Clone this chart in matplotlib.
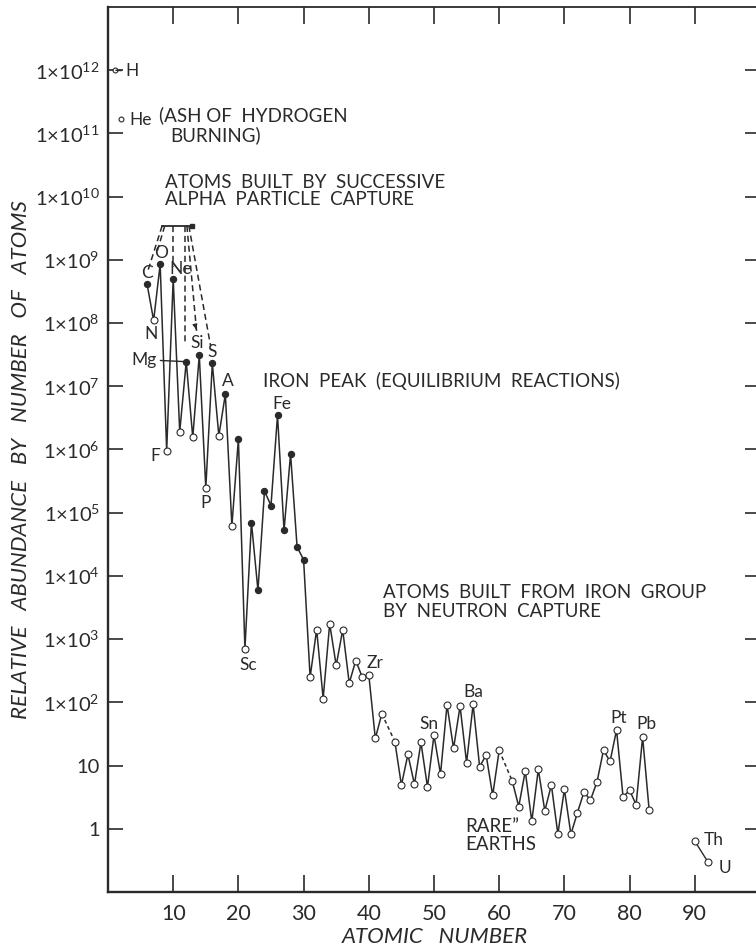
import matplotlib
matplotlib.use("Agg")
import matplotlib.pyplot as plt
import numpy as np

plt.rcParams['font.family'] = ['Lato', 'DejaVu Sans']
plt.rcParams['mathtext.default'] = 'regular'

ink = '#2a2a2a'

# hydrogen / helium, drawn on their own
light_z = [1, 2]
light_ab = [1.0e12, 1.7e11]

# main chain C .. Bi (Tc and Pm missing)
chain_z = list(range(6, 43)) + list(range(44, 61)) + list(range(62, 84))
chain_ab = [
    4.1e8, 1.1e8, 8.5e8, 9.6e5, 5.0e8, 1.9e6, 2.45e7, 1.55e6, 3.1e7, 2.45e5,    # C..P
    2.3e7, 1.65e6, 7.5e6, 6.2e4, 1.47e6, 700, 7.0e4, 5.9e3, 2.2e5, 1.3e5,        # S..Mn
    3.5e6, 5.25e4, 8.5e5, 2.9e4, 1.8e4, 250, 1420, 115, 1750, 383,              # Fe..Br
    1400, 201, 459, 250, 273, 26.9, 66,                                          # Kr..Mo
    23.9, 4.9, 15, 5.05, 23.3, 4.57, 30.3, 7.3, 91.6, 18.7,                      # Ru..I
    87, 11.1, 92.7, 9.6, 14.7, 3.38, 17.4,                                       # Xe..Nd
    5.7, 2.25, 8.2, 1.31, 8.7, 1.92, 4.95, 0.83, 4.2, 0.82,                      # Sm..Lu
    1.8, 3.8, 2.85, 5.5, 17.6, 11.6, 36.4, 3.2, 4.06, 2.41, 28.2, 1.98,          # Hf..Bi
]
# filled dots: even-Z light elements and the iron group
filled_z = [6, 8, 10, 12, 14, 16, 18, 20, 22, 23, 24, 25, 26, 27, 28, 29, 30]

heavy_z = [90, 92]
heavy_ab = [0.64, 0.30]

# labelled elements: symbol, Z, offset in pixels
labels = [
    ('C', 6, 0, 11), ('N', 7, -3, -14), ('O', 8, 1, 11), ('F', 9, -11, -5),
    ('Ne', 10, 7, 10), ('Si', 14, -2, 12), ('S', 16, 0, 11), ('A', 18, 2, 13),
    ('P', 15, 0, -15), ('Fe', 26, 4, 11), ('Sc', 21, 3, -16), ('Zr', 40, 6, 12),
    ('Sn', 50, -5, 11), ('Ba', 56, 0, 12), ('Pt', 78, 2, 12), ('Pb', 82, 4, 13),
]

fig = plt.figure(figsize=(7.56, 9.51), dpi=100)
ax = fig.add_axes([0.14286, 0.06204, 0.8624, 0.9306])
ax.set_yscale('log')
ax.set_xlim(0, 100)
ax.set_ylim(0.1, 1e13)

cz = np.array(chain_z)
ca = np.array(chain_ab)

# solid runs, dashed across the gaps
start = 0
for i in range(1, len(cz) + 1):
    if i == len(cz) or cz[i] - cz[i - 1] > 1:
        ax.plot(cz[start:i], ca[start:i], color=ink, lw=1.1, zorder=2)
        if i < len(cz):
            ax.plot(cz[i - 1:i + 1], ca[i - 1:i + 1], color=ink, lw=1.1,
                    ls=(0, (2.5, 2)), zorder=2)
        start = i
ax.plot(heavy_z, heavy_ab, color=ink, lw=1.0, zorder=2)

is_filled = np.isin(cz, filled_z)
ax.plot(cz[is_filled], ca[is_filled], 'o', ms=4.5, mfc=ink, mec=ink, mew=0.8, zorder=3)
ax.plot(cz[~is_filled], ca[~is_filled], 'o', ms=5, mfc='white', mec=ink, mew=0.8, zorder=3)
ax.plot(heavy_z, heavy_ab, 'o', ms=5, mfc='white', mec=ink, mew=0.8, zorder=3)
ax.plot(light_z, light_ab, 'o', ms=3.5, mfc='white', mec=ink, mew=0.8, zorder=3)

fs_lab = 12.5
lab_kw = dict(textcoords='offset pixels', ha='center', va='center', fontsize=fs_lab, color=ink)
for sym, z, dx, dy in labels:
    ax.annotate(sym, (z, ca[chain_z.index(z)]), xytext=(dx, dy), **lab_kw)
ax.annotate('Mg', (12, ca[chain_z.index(12)]), xytext=(-30, 2), textcoords='offset pixels',
            ha='right', va='center', fontsize=fs_lab, color=ink,
            arrowprops=dict(arrowstyle='-', color=ink, lw=1.0, shrinkA=1, shrinkB=2))
ax.annotate('H', (light_z[0], light_ab[0]), xytext=(11, -1), textcoords='offset pixels',
            ha='left', va='center', fontsize=fs_lab, color=ink,
            arrowprops=dict(arrowstyle='-', color=ink, lw=1.0, shrinkA=1, shrinkB=1))
ax.annotate('He', (light_z[1], light_ab[1]), xytext=(8, -1), textcoords='offset pixels',
            ha='left', va='center', fontsize=fs_lab, color=ink)
ax.annotate('Th', (heavy_z[0], heavy_ab[0]), xytext=(9, 1), textcoords='offset pixels',
            ha='left', va='center', fontsize=fs_lab, color=ink)
ax.annotate('U', (heavy_z[1], heavy_ab[1]), xytext=(11, -6), textcoords='offset pixels',
            ha='left', va='center', fontsize=fs_lab, color=ink)

# dashed guides from the alpha-capture bracket
bar_y = 3.45e9
ax.plot([8.3, 12.9], [bar_y, bar_y], color=ink, lw=1.3, zorder=2)
ax.plot([12.9], [bar_y], 's', ms=3.5, color=ink, zorder=3)
guides = [(8.3, 6.0, 8.79), (8.7, 7.5, 9.12), (10.0, 10.0, 8.89),
          (11.8, 11.8, 7.65), (12.1, 13.6, 7.86), (12.4, 15.75, 7.63)]
for x0, x1, ly in guides:
    ax.plot([x0, x1], [bar_y, 10 ** ly], color=ink, lw=1.1, ls=(0, (4, 2.5)), zorder=2)
ax.annotate('', (13.6, 10 ** 7.86), xytext=(13.4, 10 ** 7.95),
            arrowprops=dict(arrowstyle='-|>', color=ink, lw=0.8, mutation_scale=7))

txt_kw = dict(fontsize=13.5, color=ink, ha='left', va='center')
ax.text(7.75, 1.95e11, '(ASH OF  HYDROGEN', **txt_kw)
ax.text(9.6, 9.4e10, 'BURNING)', **txt_kw)
ax.text(8.74, 1.66e10, 'ATOMS  BUILT  BY  SUCCESSIVE', **txt_kw)
ax.text(8.74, 9.0e9, 'ALPHA  PARTICLE  CAPTURE', **txt_kw)
ax.text(23.8, 1.23e7, 'IRON  PEAK  (EQUILIBRIUM  REACTIONS)', **txt_kw)
ax.text(42.2, 5.45e3, 'ATOMS  BUILT  FROM  IRON  GROUP', **txt_kw)
ax.text(42.2, 2.73e3, 'BY  NEUTRON  CAPTURE', **txt_kw)
ax.text(54.75, 1.1, 'RARE\u201d', **txt_kw)
ax.text(54.75, 0.57, 'EARTHS', **txt_kw)

# axes styling
yt = [10.0 ** k for k in range(0, 13)]
ytl = ['1', '10'] + ['1\u00d710$^{%d}$' % k for k in range(2, 13)]
ax.set_yticks(yt)
ax.set_yticklabels(ytl)
ax.yaxis.set_minor_locator(matplotlib.ticker.NullLocator())
ax.set_xticks(range(10, 100, 10))
ax.xaxis.set_ticks_position('both')
ax.yaxis.set_ticks_position('both')
ax.tick_params(axis='both', which='major', direction='in', color=ink, labelcolor=ink,
               labelsize=14.5, width=1.2)
ax.tick_params(axis='x', length=12, pad=9, labelsize=15.5)
ax.tick_params(axis='y', length=11, pad=6)
for s in ['left', 'bottom']:
    ax.spines[s].set_linewidth(1.7)
    ax.spines[s].set_color(ink)
for s in ['top', 'right']:
    ax.spines[s].set_linewidth(1.3)
    ax.spines[s].set_color(ink)

ax.set_xlabel('ATOMIC   NUMBER', fontsize=16, style='italic', color=ink)
ax.xaxis.set_label_coords(0.5015, -0.051)
ax.xaxis.label.set_va('center')
ax.set_ylabel('RELATIVE   ABUNDANCE   BY   NUMBER   OF   ATOMS', fontsize=16,
              style='italic', color=ink)
ax.yaxis.set_label_coords(-0.134, 0.488)
ax.yaxis.label.set_va('center')

fig.savefig('out.png', dpi=100)
